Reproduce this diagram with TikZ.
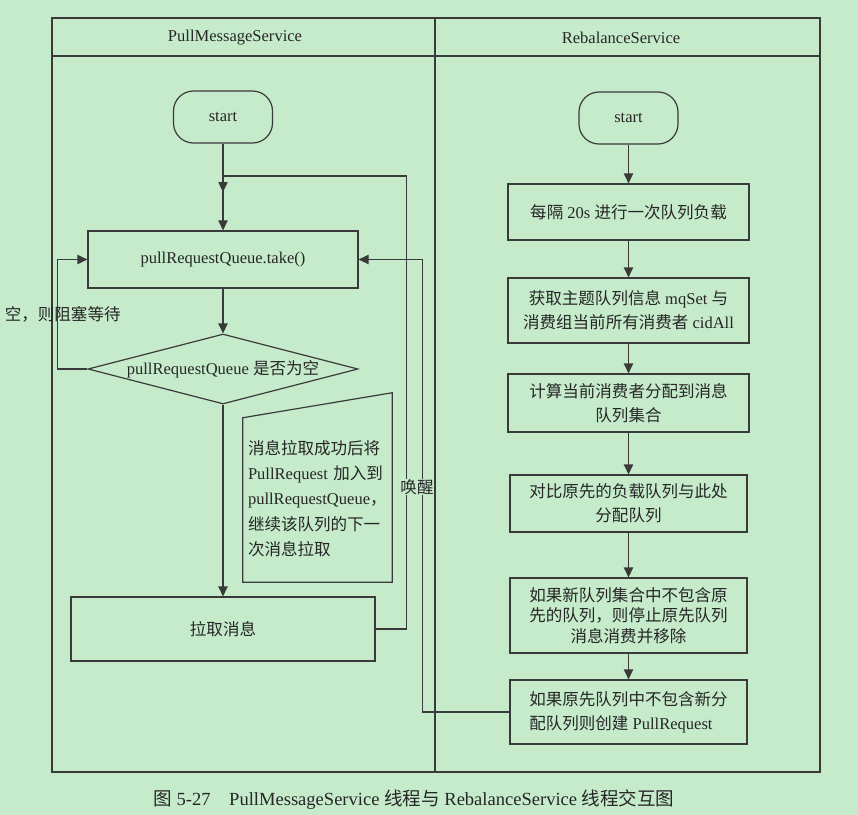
\documentclass[tikz,border=0pt]{standalone}
\usepackage{fontspec}
\setmainfont{Liberation Serif}
\newfontfamily\cjk{Noto Sans CJK SC}
\newcommand{\zh}[1]{{\cjk #1}}
\usepackage{xcolor}
\definecolor{flowBg}{HTML}{C6EBCB}
\definecolor{flowLine}{HTML}{3A3A3A}
\definecolor{flowText}{HTML}{262626}
\usetikzlibrary{shapes.geometric,arrows.meta,positioning,calc}
\tikzset{
    base/.style={
        draw=flowLine,
        line width=0.9pt,
        text=flowText,
        align=center,
        inner sep=2pt,
        font=\fontsize{12.4}{18}\selectfont
    },
    terminal/.style={
        base,
        rectangle,
        rounded corners=15pt,
        minimum width=74.25pt,
        minimum height=39pt
    },
    process/.style={
        base,
        rectangle,
        minimum width=180.75pt,
        minimum height=42pt
    },
    decision/.style={
        base,
        diamond,
        aspect=3.86,
        inner sep=0pt,
        minimum width=202.5pt,
        minimum height=52.5pt
    },
    notebox/.style={
        rectangle,
        minimum width=111.75pt,
        minimum height=141.75pt,
        inner sep=0pt
    },
    notetext/.style={
        text=flowText,
        align=left,
        text width=105pt,
        inner sep=0pt,
        font=\fontsize{12.4}{19}\selectfont
    },
    flowline/.style={
        draw=flowLine,
        line width=0.9pt
    },
    arrow/.style={
        flowline,
        -{Triangle[length=7.5pt,width=7pt]}
    },
    lbl/.style={
        text=flowText,
        inner sep=1pt,
        font=\fontsize{12.4}{18}\selectfont
    },
    lanetitle/.style={
        text=flowText,
        font=\fontsize{12.4}{18}\selectfont
    },
    caption/.style={
        text=flowText,
        font=\fontsize{13.9}{18}\selectfont
    }
}

\begin{document}
\begin{tikzpicture}[x=0.75pt, y=-0.75pt]
    % Background and lane frame
    \fill[flowBg] (0,0) rectangle (858,815);
    \useasboundingbox (0,0) rectangle (858,815);
    \draw[flowline] (52,18) rectangle (820,772);
    \draw[flowline] (52,56) -- (820,56);
    \draw[flowline] (435,18) -- (435,772);
    \node[lanetitle] (titleL) at (235,38) {PullMessageService};
    \node[lanetitle] (titleR) at (621,38) {RebalanceService};

    % Left lane - PullMessageService
    \node[terminal] (startL) at (223,117) {start};
    \node[process, below=65.1pt of startL, minimum width=202.5pt, minimum height=42.75pt] (take) {pullRequestQueue.take()};
    \node[decision, below=33.6pt of take] (empty) {pullRequestQueue \zh{是否为空}};
    \node[process, below=143.85pt of empty, minimum width=228pt, minimum height=48pt] (pull) {\zh{拉取消息}};

    % Left lane - note
    \node[notebox] (note) at (317.5,487.5) {};
    \draw[flowline] (note.south west) -- ([yshift=-18.75pt]note.north west) -- (note.north east) -- (note.south east) -- cycle;
    \node[notetext] (notetxt) at (318,498.5) {\zh{消息拉取成功后将}\\PullRequest \zh{加入到}\\pullRequestQueue\zh{，}\\\zh{继续该队列的下一}\\\zh{次消息拉取}};

    % Right lane - RebalanceService
    \node[terminal] (startR) at (628.5,118) {start};
    \node[process, below=29.1pt of startR] (load) {\zh{每隔} 20s \zh{进行一次队列负载}};
    \node[process, below=27.6pt of load, minimum height=48.75pt] (fetch) {\zh{获取主题队列信息} mqSet \zh{与}\\\zh{消费组当前所有消费者} cidAll};
    \node[process, below=22.35pt of fetch, minimum height=43.5pt] (alloc) {\zh{计算当前消费者分配到消息}\\\zh{队列集合}};
    \node[process, below=31.35pt of alloc, minimum width=177.75pt, minimum height=42.75pt] (compare) {\zh{对比原先的负载队列与此处}\\\zh{分配队列}};
    \node[process, below=33.6pt of compare, minimum width=177.75pt, minimum height=56.25pt, font=\fontsize{12.4}{15.5}\selectfont] (remove) {\zh{如果新队列集合中不包含原}\\\zh{先的队列，则停止原先队列}\\\zh{消息消费并移除}};
    \node[process, below=19.35pt of remove, minimum width=177.75pt, minimum height=48pt, align=left] (create) {\zh{如果原先队列中不包含新分}\\\zh{配队列则创建} PullRequest};

    % Connections - left lane
    \draw[arrow] (startL) -- (take);
    \draw[arrow] (take) -- (empty);
    \draw[arrow] (empty) -- (pull);
    \draw[arrow] (empty.west) -- ++(-30,0) |- node[lbl, pos=0.25, xshift=4pt] (waitlbl) {\zh{空，则阻塞等待}} (take.west);

    % Connections - right lane
    \draw[arrow] (startR) -- (load);
    \draw[arrow] (load) -- (fetch);
    \draw[arrow] (fetch) -- (alloc);
    \draw[arrow] (alloc) -- (compare);
    \draw[arrow] (compare) -- (remove);
    \draw[arrow] (remove) -- (create);

    % Connections - between lanes
    \draw[arrow] (create.west) -- ++(-87,0) |- (take.east);
    \draw[arrow] (pull.east) -- ++(31,0) |- ([yshift=40.8pt]take.north) -- ([yshift=28.8pt]take.north);
    \node[lbl, fill=flowBg, inner sep=0pt] (wake) at (417,487) {\zh{唤醒}};

    % Caption
    \node[caption] (cap) at (414,800) {\zh{图} 5-27\quad PullMessageService \zh{线程与} RebalanceService \zh{线程交互图}};
\end{tikzpicture}
\end{document}
